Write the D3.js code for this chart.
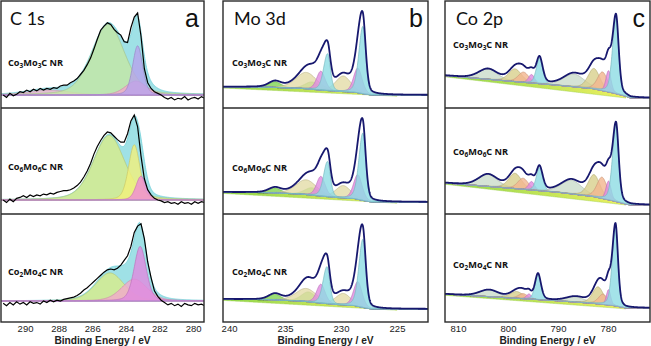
<!DOCTYPE html>
<html>
<head>
<meta charset="utf-8">
<script src="https://cdn.jsdelivr.net/npm/d3@7"></script>
<style>
  body { margin: 0; background: #fff; }
  svg { display: block; }
</style>
</head>
<body>
<svg id="chart" width="651" height="346"></svg>
<script>
// ---- data ----
var panelTitles = ["C 1s", "Mo 3d", "Co 2p"];
var panelLetters = ["a", "b", "c"];
var sampleNames = ["Co3Mo3C NR", "Co6Mo6C NR", "Co2Mo4C NR"];
var c1sTicks = [290, 288, 286, 284, 282, 280];
var mo3dTicks = [240, 235, 230, 225];
var co2pTicks = [810, 800, 790, 780];

// measured C 1s counts (normalised), 291.3 eV down to 279.3 eV every 0.2 eV
var c1sStart = 291.3, c1sStep = 0.2;
var c1sRaw = [
  [0.00,-0.03,0.02,-0.01,0.01,0.04,0.03,0.06,0.04,0.07,
   0.05,0.08,0.06,0.08,0.07,0.09,0.08,0.11,0.12,0.12,
   0.15,0.17,0.20,0.25,0.30,0.37,0.45,0.56,0.68,0.79,
   0.84,0.88,0.86,0.80,0.76,0.73,0.65,0.64,0.82,0.95,
   1.00,0.72,0.32,0.15,0.08,0.04,0.02,0.00,-0.03,-0.05,
   -0.03,-0.06,-0.04,-0.05,-0.02,-0.06,-0.04,-0.03,-0.05,-0.02,-0.04],
  [0.00,-0.03,0.01,-0.02,0.02,0.03,0.05,0.03,0.06,0.04,
   0.06,0.05,0.07,0.06,0.08,0.07,0.09,0.10,0.11,0.11,
   0.12,0.14,0.17,0.21,0.27,0.34,0.43,0.54,0.63,0.70,
   0.76,0.80,0.79,0.75,0.71,0.68,0.68,0.78,0.93,1.00,
   0.86,0.52,0.25,0.12,0.06,0.02,0.00,-0.01,-0.03,-0.02,
   -0.04,-0.03,-0.05,-0.02,-0.04,-0.03,-0.05,-0.02,-0.04,-0.02,-0.03],
  [-0.03,-0.06,-0.02,-0.05,-0.01,-0.04,-0.02,-0.05,-0.01,-0.03,
   -0.02,-0.04,0.00,-0.02,0.01,-0.01,0.01,0.00,0.02,0.03,
   0.04,0.05,0.07,0.10,0.14,0.17,0.21,0.25,0.29,0.33,
   0.37,0.40,0.41,0.40,0.42,0.46,0.52,0.58,0.70,0.88,
   0.96,0.99,0.80,0.50,0.30,0.13,0.06,0.01,-0.02,-0.05,
   -0.03,-0.06,-0.04,-0.07,-0.03,-0.05,-0.06,-0.03,-0.05,-0.04,-0.06]
];

// fitted components: [centre eV, height, fwhm eV, colour, high-BE tail factor]
var c1sPeaks = [
  [[288.6, 0.06, 3.0, "rose"], [285.05, 0.86, 2.3, "green"], [283.4, 0.17, 1.5, "pink"], [283.3, 0.60, 0.7, "purple"]],
  [[285.0, 0.76, 2.2, "lime"], [283.5, 0.65, 0.8, "yellow"], [283.1, 0.28, 0.7, "magenta"]],
  [[284.95, 0.36, 2.0, "lime"], [283.5, 0.28, 1.8, "pink"], [283.15, 0.70, 0.85, "violet"]]
];

var mo3dPeaks = [
  [[235.9, 0.07, 1.3, "mgreen"], [232.6, 0.09, 1.5, "mgreen"], [233.1, 0.20, 2.2, "khaki"], [229.8, 0.19, 1.6, "khaki"],
   [231.8, 0.23, 0.9, "violet"], [228.5, 0.30, 0.9, "violet"], [231.2, 0.45, 0.6, "mcyan", 1.4], [228.05, 0.82, 0.6, "mcyan", 1.4]],
  [[235.9, 0.06, 1.3, "mgreen"], [232.6, 0.09, 1.5, "mgreen"], [233.1, 0.18, 2.2, "khaki"], [229.8, 0.15, 1.6, "khaki"],
   [231.8, 0.24, 0.9, "violet"], [228.5, 0.30, 0.9, "violet"], [231.2, 0.43, 0.6, "mcyan", 1.4], [228.05, 0.82, 0.6, "mcyan", 1.4]],
  [[235.9, 0.07, 1.3, "mgreen"], [232.9, 0.12, 1.5, "mgreen"], [233.1, 0.16, 2.2, "khaki"], [229.8, 0.14, 1.6, "khaki"],
   [231.8, 0.23, 0.9, "violet"], [228.5, 0.30, 0.9, "violet"], [231.25, 0.45, 0.6, "mcyan", 1.4], [228.05, 0.83, 0.6, "mcyan", 1.4]]
];
// Shirley background (upper edge) and linear baseline (lower edge)
var mo3dBackground = [
  [[240.6, 0.10], [236.5, 0.095], [233.5, 0.08], [231.8, 0.06], [230.3, 0.045], [228.8, 0.035], [228.0, 0.015], [227.3, 0], [222.1, 0]],
  [[240.6, 0.12], [236.5, 0.114], [233.5, 0.096], [231.8, 0.072], [230.3, 0.054], [228.8, 0.042], [228.0, 0.018], [227.3, 0], [222.1, 0]],
  [[240.6, 0.12], [236.5, 0.114], [233.5, 0.096], [231.8, 0.072], [230.3, 0.054], [228.8, 0.042], [228.0, 0.018], [227.3, 0], [222.1, 0]]
];
var mo3dBaseLine = [
  [[240.6, 0.085], [225.0, -0.015]],
  [[240.6, 0.105], [225.0, -0.015]],
  [[240.6, 0.105], [225.0, -0.015]]
];

var co2pPeaks = [
  [[804.0, 0.12, 4.5, "sage"], [798.6, 0.15, 3.0, "olive"], [796.9, 0.12, 2.5, "salmon"], [795.3, 0.10, 1.4, "violet"],
   [793.7, 0.30, 1.5, "mcyan"], [786.8, 0.15, 5.0, "sage"], [782.8, 0.24, 2.8, "olive"], [781.1, 0.22, 2.4, "salmon"],
   [779.9, 0.25, 1.2, "violet"], [778.4, 0.90, 1.25, "mcyan", 1.3]],
  [[804.0, 0.14, 4.5, "sage"], [798.6, 0.18, 3.0, "olive"], [797.0, 0.13, 2.5, "salmon"], [795.3, 0.10, 1.4, "violet"],
   [793.7, 0.27, 1.5, "mcyan"], [787.3, 0.16, 5.0, "sage"], [782.8, 0.26, 2.8, "olive"], [781.2, 0.25, 2.4, "salmon"],
   [779.9, 0.22, 1.2, "violet"], [778.4, 0.90, 1.25, "mcyan", 1.3]],
  [[803.8, 0.08, 4.5, "sage"], [798.3, 0.08, 3.0, "olive"], [797.0, 0.06, 2.2, "salmon"], [795.8, 0.06, 1.2, "violet"],
   [794.0, 0.30, 1.4, "mcyan"], [786.5, 0.06, 4.5, "sage"], [782.0, 0.20, 2.6, "olive"], [781.0, 0.12, 2.2, "salmon"],
   [779.9, 0.18, 1.0, "violet"], [778.5, 0.95, 1.15, "mcyan", 1.3]]
];
var co2pBackground = [
  [[812.7, 0.265], [800, 0.2], [790, 0.15], [783, 0.11], [779, 0.06], [776.4, 0.02], [775.5, 0], [771.5, 0]],
  [[812.7, 0.26], [800, 0.2], [790, 0.15], [783, 0.1], [779, 0.05], [776.4, 0.01], [775.5, 0], [771.5, 0]],
  [[812.7, 0.165], [800, 0.12], [790, 0.085], [783, 0.055], [779, 0.03], [776.4, 0], [771.5, 0]]
];
var co2pBaseLine = [
  [[812.7, 0.25], [776.4, 0.0]],
  [[812.7, 0.245], [776.4, 0.0]],
  [[812.7, 0.15], [776.4, -0.01]]
];

// ---- styling / layout ----
var colours = {
  cyan: "#9fe1e6", green: "#c4e7a4", purple: "#b7a3ec", pink: "#f2a9cb", rose: "#f3b6cd",
  lime: "#d8ec8a", yellow: "#f3f07a", magenta: "#f08ad6", violet: "#e08ae0",
  mcyan: "#8ddce4", khaki: "#e3dca8", mgreen: "#80d652", salmon: "#f3b58f",
  olive: "#d8cf8c", sage: "#cbdcca"
};

var panels = [
  {x0: 1, x1: 204, domain: [291.43, 279.35], step: 0.02, ticks: c1sTicks},
  {x0: 223, x1: 428, domain: [240.54, 222.23], step: 0.02, ticks: mo3dTicks},
  {x0: 445, x1: 650, domain: [812.6, 771.6], step: 0.05, ticks: co2pTicks}
];
var rowTop = [1, 108, 214], rowBottom = [108, 214, 322];
var rowZero = [[95, 200, 301], [95, 202, 309], [98, 205, 308]];
var rowScale = [[82, 85, 78], [82, 82, 82], [85, 85, 85]];
var labelPos = [[[8, 66], [8, 170], [8, 275]], [[232, 66], [232, 171], [232, 275]], [[453, 48], [453, 155], [453, 268]]];

var svg = d3.select("#chart");
var defs = svg.append("defs");
var grad = defs.append("linearGradient").attr("id", "bgFill")
    .attr("x1", "0").attr("x2", "1").attr("y1", "0").attr("y2", "0");
grad.append("stop").attr("offset", "0%").attr("stop-color", "#8fd64c");
grad.append("stop").attr("offset", "100%").attr("stop-color", "#eef060");

// pseudo-Voigt line shape, wider on the high binding energy side when a tail factor is set
function component(E, pk) {
    var fw = (E > pk[0] && pk[4]) ? pk[2] * pk[4] : pk[2];
    var d = (E - pk[0]) / fw;
    return pk[1] * (0.7 * Math.exp(-4 * Math.LN2 * d * d) + 0.3 / (1 + 4 * d * d));
}

function pointScale(pts) {
    return d3.scaleLinear()
        .domain(pts.map(function (d) { return d[0]; }))
        .range(pts.map(function (d) { return d[1]; }))
        .clamp(true);
}

function drawRow(pi, r) {
    var p = panels[pi];
    var x = d3.scaleLinear().domain(p.domain).range([p.x0, p.x1]);
    var y = d3.scaleLinear().domain([0, 1]).range([rowZero[pi][r], rowZero[pi][r] - rowScale[pi][r]]);
    var xs = d3.range(p.domain[0], p.domain[1], -p.step);

    var clipId = "clip" + pi + r;
    defs.append("clipPath").attr("id", clipId).append("rect")
        .attr("x", p.x0).attr("y", rowTop[r])
        .attr("width", p.x1 - p.x0).attr("height", rowBottom[r] - rowTop[r]);
    var g = svg.append("g").attr("clip-path", "url(#" + clipId + ")");

    if (pi === 0) {
        var peaks = c1sPeaks[r];
        var env = xs.map(function (E) { return d3.sum(peaks, function (pk) { return component(E, pk); }); });
        g.append("path").datum(xs)
            .attr("d", d3.area().x(function (E) { return x(E); }).y0(y(0)).y1(function (E, i) { return y(env[i]); }))
            .attr("fill", colours.cyan).attr("stroke", "#72cfd8").attr("stroke-width", 0.8);
        peaks.forEach(function (pk) {
            var col = colours[pk[3]];
            g.append("path").datum(xs)
                .attr("d", d3.area().x(function (E) { return x(E); }).y0(y(0)).y1(function (E) { return y(component(E, pk)); }))
                .attr("fill", col).attr("fill-opacity", 0.8)
                .attr("stroke", d3.color(col).darker(0.5)).attr("stroke-width", 0.7);
        });
        g.append("line")
            .attr("x1", x(p.domain[0])).attr("x2", x(p.domain[1]))
            .attr("y1", y(0)).attr("y2", y(0))
            .attr("stroke", "#b58ad8").attr("stroke-width", 1);
        var raw = c1sRaw[r];
        g.append("path").datum(raw)
            .attr("d", d3.line()
                .x(function (v, i) { return x(c1sStart - i * c1sStep); })
                .y(function (v) { return y(v); }))
            .attr("fill", "none").attr("stroke", "#000").attr("stroke-width", 1.2);
    } else {
        var peaks2 = pi === 1 ? mo3dPeaks[r] : co2pPeaks[r];
        var bgPts = pi === 1 ? mo3dBackground[r] : co2pBackground[r];
        var basePts = pi === 1 ? mo3dBaseLine[r] : co2pBaseLine[r];
        var bg = pointScale(bgPts);
        var base = pointScale(basePts);

        var xw = xs.filter(function (E) { return E <= basePts[0][0] && E >= basePts[1][0]; });
        g.append("path").datum(xw)
            .attr("d", d3.area().x(function (E) { return x(E); })
                .y0(function (E) { return y(base(E)); })
                .y1(function (E) { return y(bg(E)); }))
            .attr("fill", "url(#bgFill)").attr("stroke", "#9ccf4e").attr("stroke-width", 0.5);

        peaks2.forEach(function (pk) {
            var col = colours[pk[3]];
            g.append("path").datum(xs)
                .attr("d", d3.area().x(function (E) { return x(E); })
                    .y0(function (E) { return y(bg(E)); })
                    .y1(function (E) { return y(bg(E) + component(E, pk)); }))
                .attr("fill", col).attr("fill-opacity", 0.8)
                .attr("stroke", d3.color(col).darker(0.5)).attr("stroke-width", 0.7);
        });

        g.append("path").datum(xs)
            .attr("d", d3.line().x(function (E) { return x(E); })
                .y(function (E) { return y(bg(E) + d3.sum(peaks2, function (pk) { return component(E, pk); })); }))
            .attr("fill", "none").attr("stroke", "#17186e").attr("stroke-width", 1.8);
    }

    // sample name with subscripted stoichiometry
    var lbl = svg.append("text")
        .attr("x", labelPos[pi][r][0]).attr("y", labelPos[pi][r][1])
        .attr("font-family", "'Open Sans', sans-serif").attr("font-weight", "bold")
        .attr("font-size", 9.2).attr("fill", "#111");
    var prevSub = false;
    sampleNames[r].match(/\d+|\D+/g).forEach(function (part) {
        var isSub = /\d/.test(part);
        var t = lbl.append("tspan").text(part);
        if (isSub) t.attr("font-size", 6.5).attr("dy", 2);
        else if (prevSub) t.attr("dy", -2);
        prevSub = isSub;
    });

    if (r === 2) {
        var axis = svg.append("g")
            .attr("transform", "translate(0," + rowBottom[2] + ")")
            .call(d3.axisBottom(x).tickValues(p.ticks).tickSize(0).tickPadding(3));
        axis.select(".domain").remove();
        axis.selectAll("text")
            .attr("font-family", "'Liberation Sans', Arial, sans-serif")
            .attr("font-size", 9.5).attr("fill", "#222");
    }
}

panels.forEach(function (p, pi) {
    for (var r = 0; r < 3; r++) drawRow(pi, r);

    // frame and row dividers
    svg.append("rect")
        .attr("x", p.x0).attr("y", rowTop[0])
        .attr("width", p.x1 - p.x0).attr("height", rowBottom[2] - rowTop[0])
        .attr("fill", "none").attr("stroke", "#2a2a2a").attr("stroke-width", 1.4);
    [rowBottom[0], rowBottom[1]].forEach(function (yy) {
        svg.append("line")
            .attr("x1", p.x0).attr("x2", p.x1).attr("y1", yy).attr("y2", yy)
            .attr("stroke", "#2a2a2a").attr("stroke-width", 1.4);
    });

    svg.append("text")
        .attr("x", p.x0 + (pi === 0 ? 9 : 11)).attr("y", 25)
        .attr("font-family", "Lato, sans-serif").attr("font-size", 18).attr("fill", "#111")
        .text(panelTitles[pi]);
    svg.append("text")
        .attr("x", p.x1 - 5).attr("y", 27).attr("text-anchor", "end")
        .attr("font-family", "'Liberation Sans', Arial, sans-serif").attr("font-size", 25).attr("fill", "#111")
        .text(panelLetters[pi]);
    svg.append("text")
        .attr("x", (p.x0 + p.x1) / 2).attr("y", 343.5).attr("text-anchor", "middle")
        .attr("font-family", "'Liberation Sans', Arial, sans-serif").attr("font-weight", "bold")
        .attr("font-size", 10.2).attr("fill", "#222")
        .text("Binding Energy / eV");
});
</script>
</body>
</html>
